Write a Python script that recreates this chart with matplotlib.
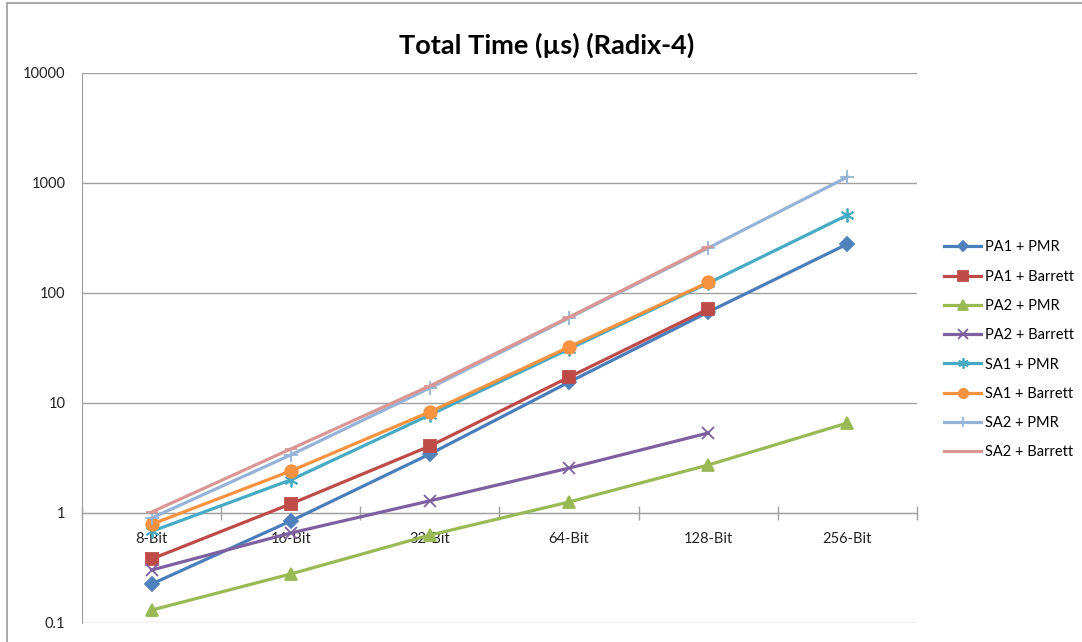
import numpy as np
import matplotlib.pyplot as plt
from matplotlib.patches import Rectangle
from matplotlib.ticker import FixedLocator, NullFormatter

# ----- data
categories = ['8-Bit', '16-Bit', '32-Bit', '64-Bit', '128-Bit', '256-Bit']

pa1_pmr = [0.226, 0.846, 3.44, 15.5, 67.2, 279]
pa1_barrett = [0.382, 1.21, 4.06, 17.2, 71.6]
pa2_pmr = [0.131, 0.279, 0.63, 1.26, 2.73, 6.58]
pa2_barrett = [0.303, 0.658, 1.29, 2.56, 5.34]
sa1_pmr = [0.68, 2.0, 7.8, 31, 123, 511]
sa1_barrett = [0.79, 2.41, 8.3, 32.3, 125]
sa2_pmr = [0.90, 3.37, 13.7, 59.3, 257, 1134]
sa2_barrett = [1.02, 3.82, 14.3, 60.3, 262]

yticks = [0.1, 1, 10, 100, 1000, 10000]
ylabels = ['0.1', '1', '10', '100', '1000', '10000']

# label, values, line colour, marker, marker colour, marker size
series = [
    ('PA1 + PMR', pa1_pmr, '#4a7ebb', 'D', '#4f81bd', 7),
    ('PA1 + Barrett', pa1_barrett, '#be4b48', 's', '#be4b48', 9),
    ('PA2 + PMR', pa2_pmr, '#98b954', '^', '#98b954', 9),
    ('PA2 + Barrett', pa2_barrett, '#7d60a0', 'x', '#7d60a0', 9),
    ('SA1 + PMR', sa1_pmr, '#46aac5', (6, 2, 0), '#46aac5', 10),
    ('SA1 + Barrett', sa1_barrett, '#f69240', 'o', '#f69240', 9),
    ('SA2 + PMR', sa2_pmr, '#95b3d7', '+', '#95b3d7', 10),
    ('SA2 + Barrett', sa2_barrett, '#d99694', '_', '#d99694', 8),
]

plt.rcParams['font.family'] = ['Lato', 'DejaVu Sans']

W, H = 1082, 642
fig = plt.figure(figsize=(W / 100, H / 100), dpi=100)
ax = fig.add_axes([82 / W, 1 - 623 / H, (917 - 82) / W, (623 - 73) / H])

grid_c = '#a0a0a0'
for label, vals, lc, mk, mc, ms in series:
    x = np.arange(len(vals))
    ax.plot(x, vals, color=lc, lw=2.3, marker=mk, markersize=ms,
            markerfacecolor=mc, markeredgecolor=mc, markeredgewidth=1.3,
            label=label, zorder=3)

ax.set_yscale('log')
ax.set_ylim(0.1, 10000)
ax.set_xlim(-0.5, len(categories) - 0.5)

ax.yaxis.set_major_locator(FixedLocator(yticks))
ax.set_yticklabels(ylabels)
ax.yaxis.set_minor_formatter(NullFormatter())
ax.tick_params(axis='y', which='both', length=0, pad=12,
               labelsize=10.5, labelcolor='#222222')
ax.yaxis.grid(True, color=grid_c, lw=1.0)
ax.set_axisbelow(True)

# category axis crosses at 1
ax.spines['bottom'].set_position(('data', 1))
ax.spines['bottom'].set_color(grid_c)
ax.spines['left'].set_color(grid_c)
ax.spines['top'].set_visible(False)
ax.spines['right'].set_visible(False)
ax.set_xticks(np.arange(len(categories)))
ax.set_xticklabels(categories)
ax.set_xticks(np.arange(len(categories) + 1) - 0.5, minor=True)
ax.tick_params(axis='x', which='major', length=0, pad=14,
               labelsize=10.5, labelcolor='#222222')
ax.tick_params(axis='x', which='minor', length=10, direction='inout',
               color=grid_c, width=1.0)

fig.text(547 / W, 1 - 45 / H, 'Total Time (µs) (Radix-4)', ha='center',
         va='center', fontsize=19.5, fontweight='bold', color='#000000')

fig.legend(loc='upper left', bbox_to_anchor=(937 / W, 1 - 233 / H),
           frameon=False, fontsize=10.5, handlelength=2.5, handletextpad=0.3,
           labelspacing=1.05, borderpad=0, markerscale=0.75)

# chart area border
fig.add_artist(Rectangle((7 / W, -0.05), 1.2, 1 - 3 / H + 0.05,
                         transform=fig.transFigure, fill=False,
                         edgecolor='#9a9a9a', lw=1.2))

fig.savefig('out.png', dpi=100)
